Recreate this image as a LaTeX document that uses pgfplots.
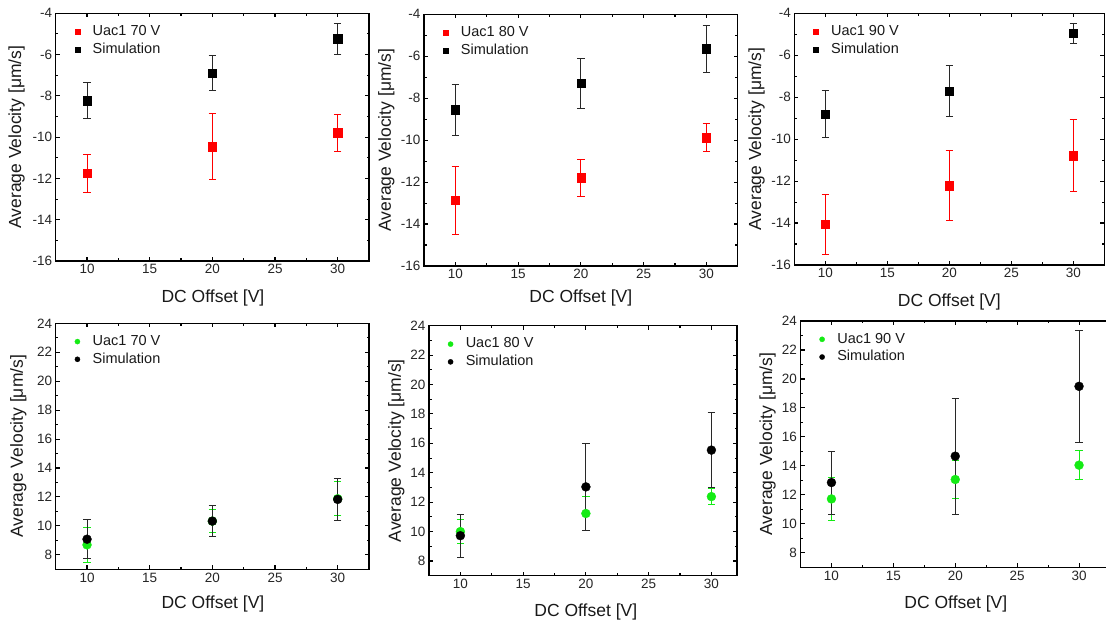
\documentclass[border=0pt]{standalone}
\usepackage{fontspec}
\setmainfont{Liberation Sans}
\usepackage{pgfplots}
\usepackage{pgfplotstable}
\pgfplotsset{compat=1.18}

\definecolor{myred}{RGB}{255,0,0}
\definecolor{mygreen}{RGB}{20,235,20}
\definecolor{bargray}{RGB}{40,40,40}

\pgfplotstableread{
x  a      ea    s     es
10 -11.75 0.92  -8.23 0.88
20 -10.46 1.61  -6.89 0.83
30 -9.78  0.90  -5.23 0.75
}\tA
\pgfplotstableread{
x  a      ea    s     es
10 -12.87 1.63  -8.55 1.22
20 -11.79 0.88  -7.29 1.19
30 -9.88  0.67  -5.64 1.12
}\tB
\pgfplotstableread{
x  a      ea    s     es
10 -14.06 1.43  -8.80 1.10
20 -12.21 1.69  -7.71 1.22
30 -10.79 1.72  -4.96 0.46
}\tC
\pgfplotstableread{
x  a     ea    s     es
10 8.69  1.20  9.08  1.34
20 10.33 0.80  10.33 1.09
30 11.88 1.17  11.83 1.47
}\tD
\pgfplotstableread{
x  a     ea    s     es
10 10.00 0.80  9.72  1.46
20 11.23 1.18  13.04 2.98
30 12.38 0.56  15.54 2.54
}\tE
\pgfplotstableread{
x  a     ea    s     es
10 11.72 1.50  12.85 2.17
20 13.06 1.31  14.67 3.99
30 14.05 1.02  19.49 3.85
}\tF

\pgfplotsset{
  common/.style={
    scale only axis, anchor=south west,
    xmin=7.5, xmax=32.5,
    xtick={10,15,20,25,30},
    minor x tick num=1, minor y tick num=1,
    tick align=inside,
    axis line style={line width=1.5pt},
    every tick/.style={black, line width=1.1pt},
    major tick length=4pt, minor tick length=2.5pt,
    tick label style={font=\fontsize{13.5}{15}\selectfont, text=black!85},
    /pgf/number format/assume math mode=true,
    label style={font=\fontsize{17.5}{20}\selectfont, text=black!90},
    xlabel={DC Offset [V]}, ylabel={Average Velocity [μm/s]},
    legend cell align=left,
    legend style={draw=none, fill=none, anchor=north west,
      at={(axis description cs:0.033,0.966)},
      font=\fontsize{14.5}{17}\selectfont, text=black!90,
      inner xsep=3pt, inner ysep=2pt, row sep=2.2pt,
      nodes={inner sep=1pt, text height=10.5pt, text depth=3pt}},
    legend image code/.code={\draw[##1, mark size=2.6pt] plot coordinates {(8pt,0pt)}; \path (0pt,0pt) (22pt,0pt);},
  },
  toprow/.style={common, ymin=-16, ymax=-4, ytick={-16,-14,...,-4}},
  botrow/.style={common, ymin=7, ymax=24, ytick={8,10,...,24}},
  redser/.style={only marks, mark=square*, mark size=4.2pt, color=myred,
    mark options={solid, fill=myred, draw=myred, line width=0.3pt},
    error bars/.cd, y dir=both, y explicit,
    error bar style={line width=0.9pt, myred},
    error mark options={rotate=90, mark size=3.7pt, line width=0.9pt, myred}},
  blksq/.style={only marks, mark=square*, mark size=4.2pt, color=black,
    mark options={solid, fill=black, draw=black, line width=0.3pt},
    error bars/.cd, y dir=both, y explicit,
    error bar style={line width=0.9pt, bargray},
    error mark options={rotate=90, mark size=3.7pt, line width=0.9pt, bargray}},
  grnser/.style={only marks, mark=*, mark size=4.5pt, color=mygreen,
    mark options={solid, fill=mygreen, draw=mygreen, line width=0.3pt},
    error bars/.cd, y dir=both, y explicit,
    error bar style={line width=0.9pt, mygreen},
    error mark options={rotate=90, mark size=3.7pt, line width=0.9pt, mygreen}},
  blkci/.style={only marks, mark=*, mark size=4.5pt, color=black,
    mark options={solid, fill=black, draw=black, line width=0.3pt},
    error bars/.cd, y dir=both, y explicit,
    error bar style={line width=0.9pt, bargray},
    error mark options={rotate=90, mark size=3.7pt, line width=0.9pt, bargray}},
}

\begin{document}
\begin{tikzpicture}[x=1pt,y=1pt]
\path[use as bounding box] (0,0) rectangle (1106,624);

% ---------- top row ----------
\begin{axis}[toprow, at={(55.7pt,363pt)}, width=313.3pt, height=247.7pt,
  ylabel style={at={(axis description cs:-0.1245,0.5)}, anchor=center},
  xlabel style={at={(axis description cs:0.502,-0.1506)}, anchor=center}]
\addplot[redser] table[x=x, y=a, y error=ea] {\tA};
\addlegendentry{Uac1 70 V}
\addplot[blksq] table[x=x, y=s, y error=es] {\tA};
\addlegendentry{Simulation}
\end{axis}

\begin{axis}[toprow, at={(424pt,358pt)}, width=313.7pt, height=251.7pt,
  ylabel style={at={(axis description cs:-0.1202,0.5)}, anchor=center},
  xlabel style={at={(axis description cs:0.5,-0.127)}, anchor=center}]
\addplot[redser] table[x=x, y=a, y error=ea] {\tB};
\addlegendentry{Uac1 80 V}
\addplot[blksq] table[x=x, y=s, y error=es] {\tB};
\addlegendentry{Simulation}
\end{axis}

\begin{axis}[toprow, at={(794.3pt,359pt)}, width=310pt, height=251.7pt,
  ylabel style={at={(axis description cs:-0.1213,0.5)}, anchor=center},
  xlabel style={at={(axis description cs:0.5,-0.146)}, anchor=center}]
\addplot[redser] table[x=x, y=a, y error=ea] {\tC};
\addlegendentry{Uac1 90 V}
\addplot[blksq] table[x=x, y=s, y error=es] {\tC};
\addlegendentry{Simulation}
\end{axis}

% ---------- bottom row ----------
\begin{axis}[botrow, at={(55.7pt,54.7pt)}, width=313.3pt, height=246pt,
  ylabel style={at={(axis description cs:-0.1194,0.5)}, anchor=center},
  xlabel style={at={(axis description cs:0.502,-0.142)}, anchor=center}]
\addplot[grnser] table[x=x, y=a, y error=ea] {\tD};
\addlegendentry{Uac1 70 V}
\addplot[blkci] table[x=x, y=s, y error=es] {\tD};
\addlegendentry{Simulation}
\end{axis}

\begin{axis}[botrow, at={(429pt,48.3pt)}, width=308pt, height=250pt, xmax=32.04,
  ylabel style={at={(axis description cs:-0.1062,0.5)}, anchor=center},
  xlabel style={at={(axis description cs:0.509,-0.144)}, anchor=center}]
\addplot[grnser] table[x=x, y=a, y error=ea] {\tE};
\addlegendentry{Uac1 80 V}
\addplot[blkci] table[x=x, y=s, y error=es] {\tE};
\addlegendentry{Simulation}
\end{axis}

\begin{axis}[botrow, at={(800.5pt,56.7pt)}, width=309.5pt, height=246.3pt,
  ylabel style={at={(axis description cs:-0.106,0.5)}, anchor=center},
  xlabel style={at={(axis description cs:0.502,-0.149)}, anchor=center}]
\addplot[grnser] table[x=x, y=a, y error=ea] {\tF};
\addlegendentry{Uac1 90 V}
\addplot[blkci] table[x=x, y=s, y error=es] {\tF};
\addlegendentry{Simulation}
\end{axis}
\end{tikzpicture}
\end{document}
